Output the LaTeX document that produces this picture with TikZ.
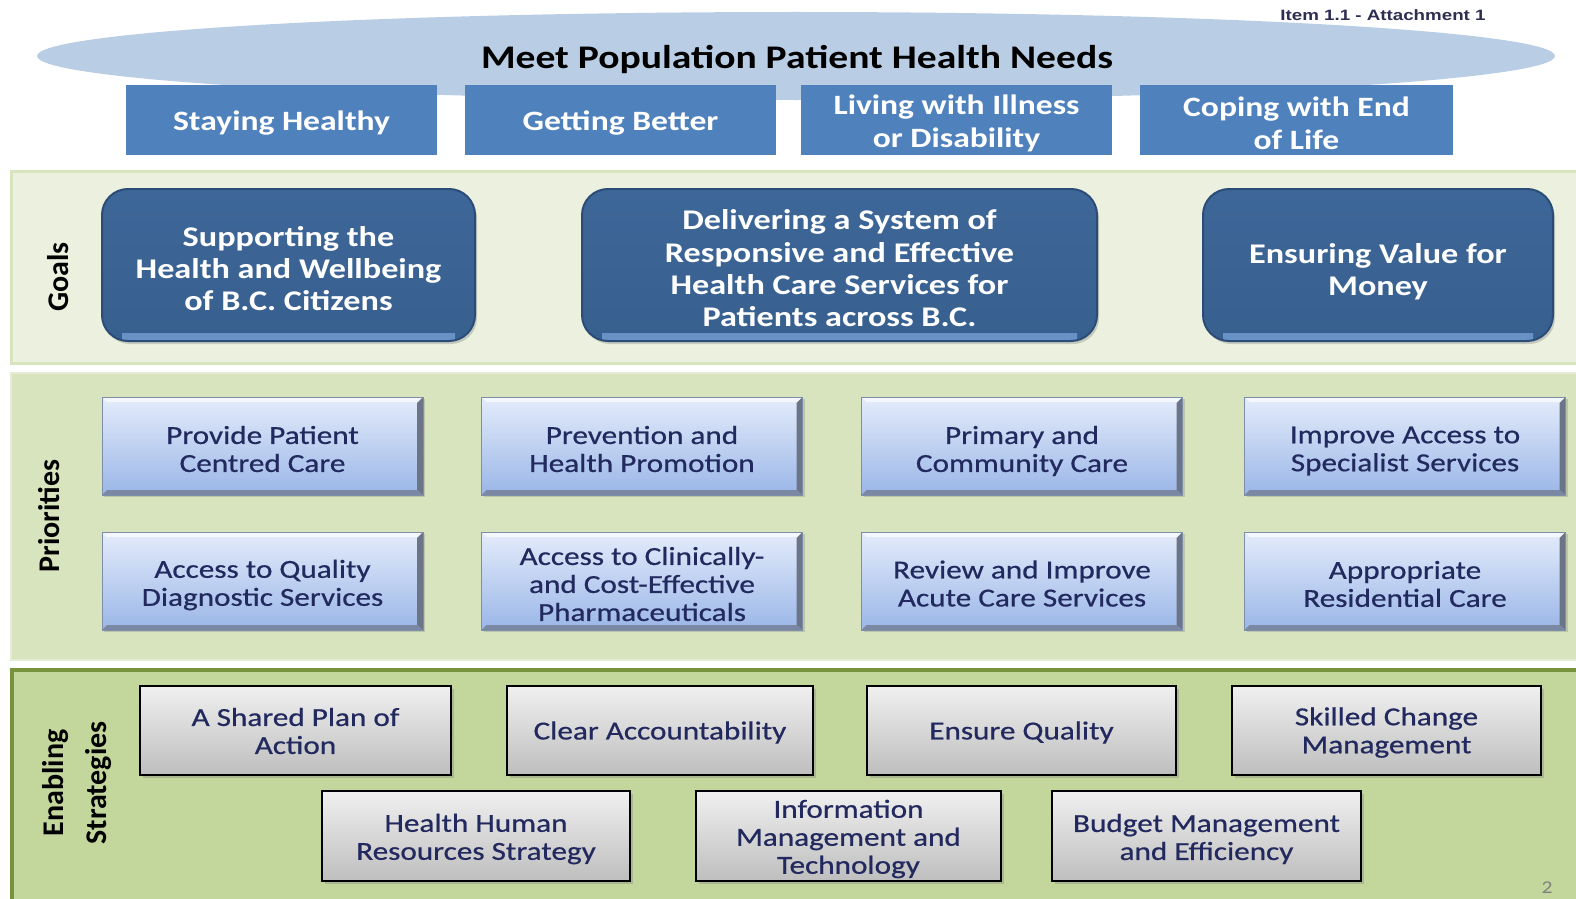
\documentclass[tikz,border=0pt]{standalone}
\usepackage{fontspec}
\setmainfont{Carlito}[FakeStretch=1.2]
\newfontfamily\medfont{Carlito}[FakeStretch=1.2, FakeBold=0.6]
\newfontfamily\lblfont{Carlito}
\newfontfamily\itemfont{Liberation Sans}[FakeStretch=1.25]
\usetikzlibrary{shadows}
\newlength{\tshift}
\newcommand{\dnl}[1]{\raisebox{-\tshift}[\height][\depth]{#1}}
\definecolor{ellblue}{HTML}{B9CDE5}
\definecolor{topblue}{HTML}{4F81BD}
\definecolor{goaltop}{HTML}{3E6799}
\definecolor{goalbot}{HTML}{37608F}
\definecolor{goaledge}{HTML}{2C4C78}
\definecolor{goalhi}{HTML}{6A93C8}
\definecolor{priotop}{HTML}{E4ECFB}
\definecolor{priobot}{HTML}{9AB6E7}
\definecolor{prioedge}{HTML}{7F8EA8}
\definecolor{priodark}{HTML}{6C7488}
\definecolor{priolight}{HTML}{F4F7FD}
\definecolor{strattop}{HTML}{F0F0F0}
\definecolor{stratbot}{HTML}{BEBEBE}
\definecolor{navytext}{HTML}{22295E}
\definecolor{bandA}{HTML}{EBF1DE}
\definecolor{bandAedge}{HTML}{D7E4BD}
\definecolor{bandB}{HTML}{D7E4BD}
\definecolor{bandBedge}{HTML}{E4ECD3}
\definecolor{bandC}{HTML}{C3D69B}
\definecolor{bandCedge}{HTML}{77933C}
\definecolor{itemtext}{HTML}{2E2E52}
\begin{document}
\begin{tikzpicture}[x=1pt,y=-1pt,
  tsh/.code={\setlength{\tshift}{#1}},
  topbox/.style={fill=topblue, draw=none, minimum width=311pt, minimum height=70pt,
    inner sep=0pt, text=white, font=\fontsize{28}{33}\selectfont\bfseries, align=center, tsh=3pt},
  goalbox/.style={rounded corners=26pt, top color=goaltop, bottom color=goalbot,
    draw=goaledge, line width=2pt, minimum height=152pt, inner sep=0pt, text=white,
    font=\fontsize{28.5}{32.3}\selectfont\bfseries, align=center, tsh=3.5pt,
    drop shadow={opacity=0.35, shadow xshift=2pt, shadow yshift=-3pt},
    path picture={
      \shade[top color=goalbot, bottom color=goalhi, rounded corners=0pt]
        ([xshift=20pt,yshift=2pt]path picture bounding box.south west)
        rectangle ([xshift=-20pt,yshift=8pt]path picture bounding box.south east);
    }},
  priobox/.style={top color=priotop, bottom color=priobot, draw=prioedge, line width=1pt,
    minimum width=321pt, minimum height=98pt, inner sep=0pt, text=navytext,
    font=\medfont\fontsize{26}{28}\selectfont, align=center, tsh=3pt,
    drop shadow={opacity=0.3, shadow xshift=2pt, shadow yshift=-2pt},
    path picture={
      \fill[priolight] (path picture bounding box.north west) -- ++(5pt,-5pt)
        -- ([xshift=-5pt,yshift=-5pt]path picture bounding box.north east)
        -- (path picture bounding box.north east) -- cycle;
      \fill[priodark] (path picture bounding box.north east) -- ++(-6pt,-6pt)
        -- ([xshift=-6pt,yshift=5pt]path picture bounding box.south east)
        -- (path picture bounding box.south east) -- cycle;
      \fill[priodark!70!priobot] (path picture bounding box.south west) -- ++(5pt,5pt)
        -- ([xshift=-6pt,yshift=5pt]path picture bounding box.south east)
        -- (path picture bounding box.south east) -- cycle;
    }},
  stratbox/.style={top color=strattop, bottom color=stratbot, draw=black, line width=2.5pt,
    minimum width=309pt, minimum height=89pt, inner sep=0pt, text=navytext,
    font=\medfont\fontsize{26}{28}\selectfont, align=center, tsh=2.5pt,
    drop shadow={opacity=0.35, shadow xshift=3pt, shadow yshift=-3pt}},
  sidelabel/.style={rotate=90, inner sep=0pt, text=black, align=center,
    font=\lblfont\fontsize{30}{43}\selectfont\bfseries}
]
\useasboundingbox (0,0) rectangle (1576,899);
\fill[white] (0,0) rectangle (1576,899);

% top ellipse
\fill[ellblue] (796,56) ellipse [x radius=759pt, y radius=44pt];
\node[inner sep=0pt, font=\fontsize{33}{36}\selectfont\bfseries, text=black] (meet) at (797,59) {Meet Population Patient Health Needs};
\node[inner sep=0pt, font=\itemfont\fontsize{15}{16}\selectfont\bfseries, text=itemtext] (item) at (1383,15) {Item 1.1 - Attachment 1};

% top blue boxes
\node[topbox] (sh) at (281.5,120) {\dnl{Staying Healthy}};
\node[topbox] (gb) at (620.5,120) {\dnl{Getting Better}};
\node[topbox] (lw) at (956.5,120) {\dnl{Living with Illness}\\\dnl{or Disability}};
\node[topbox, minimum width=313pt] (ce) at (1296.5,120) {\dnl{Coping with End}\\\dnl{of Life}};

% bands
\draw[fill=bandA, draw=bandAedge, line width=3pt] (11,171) rectangle (1590,363);
\draw[fill=bandB, draw=bandBedge, line width=2pt] (11,373) rectangle (1590,660);
\draw[fill=bandC, draw=bandCedge, line width=4pt] (12,670) rectangle (1590,910);

% side labels
\node[sidelabel] (lgoals) at (58,277) {Goals};
\node[sidelabel] (lprio) at (49,516) {Priorities};
\node[sidelabel] (lstrat) at (77,783) {Enabling\\Strategies};

% goals
\node[goalbox, minimum width=373pt] (g1) at (288.5,265) {\dnl{Supporting the}\\\dnl{Health and Wellbeing}\\\dnl{of B.C. Citizens}};
\node[goalbox, minimum width=515pt] (g2) at (839.5,265) {\dnl{Delivering a System of}\\\dnl{Responsive and Effective}\\\dnl{Health Care Services for}\\\dnl{Patients across B.C.}};
\node[goalbox, minimum width=350pt, tsh=6.5pt] (g3) at (1378,265) {\dnl{Ensuring Value for}\\\dnl{Money}};

% priorities
\node[priobox] (p1) at (262.5,446) {\dnl{Provide Patient}\\\dnl{Centred Care}};
\node[priobox] (p2) at (642,446) {\dnl{Prevention and}\\\dnl{Health Promotion}};
\node[priobox, tsh=5pt] (p3) at (1022,446) {\dnl{Primary and}\\\dnl{Community Care}};
\node[priobox, tsh=5pt] (p4) at (1405,446) {\dnl{Improve Access to}\\\dnl{Specialist Services}};
\node[priobox, tsh=4pt] (p5) at (262.5,581) {\dnl{Access to Quality}\\\dnl{Diagnostic Services}};
\node[priobox] (p6) at (642,581) {\dnl{Access to Clinically-}\\\dnl{and Cost-Effective}\\\dnl{Pharmaceuticals}};
\node[priobox, tsh=2.5pt] (p7) at (1022,581) {\dnl{Review and Improve}\\\dnl{Acute Care Services}};
\node[priobox] (p8) at (1405,581) {\dnl{Appropriate}\\\dnl{Residential Care}};

% strategies
\node[stratbox, minimum width=311pt, tsh=0.5pt] (s1) at (295.5,730.5) {\dnl{A Shared Plan of}\\\dnl{Action}};
\node[stratbox, minimum width=306pt, tsh=2pt] (s2) at (660,730.5) {\dnl{Clear Accountability}};
\node[stratbox, tsh=2pt] (s3) at (1021.5,730.5) {\dnl{Ensure Quality}};
\node[stratbox, tsh=2pt] (s4) at (1386.5,730.5) {\dnl{Skilled Change}\\\dnl{Management}};
\node[stratbox, minimum width=308pt, minimum height=90pt, tsh=3pt] (s5) at (476,836) {\dnl{Health Human}\\\dnl{Resources Strategy}};
\node[stratbox, minimum width=305pt, minimum height=90pt, tsh=3pt] (s6) at (848.5,836) {\dnl{Information}\\\dnl{Management and}\\\dnl{Technology}};
\node[stratbox, minimum height=90pt, tsh=3pt] (s7) at (1206.5,836) {\dnl{Budget Management}\\\dnl{and Efficiency}};

\node[inner sep=0pt, font=\fontsize{18}{20}\selectfont, text=gray] (pg) at (1547,888) {2};
\end{tikzpicture}
\end{document}
